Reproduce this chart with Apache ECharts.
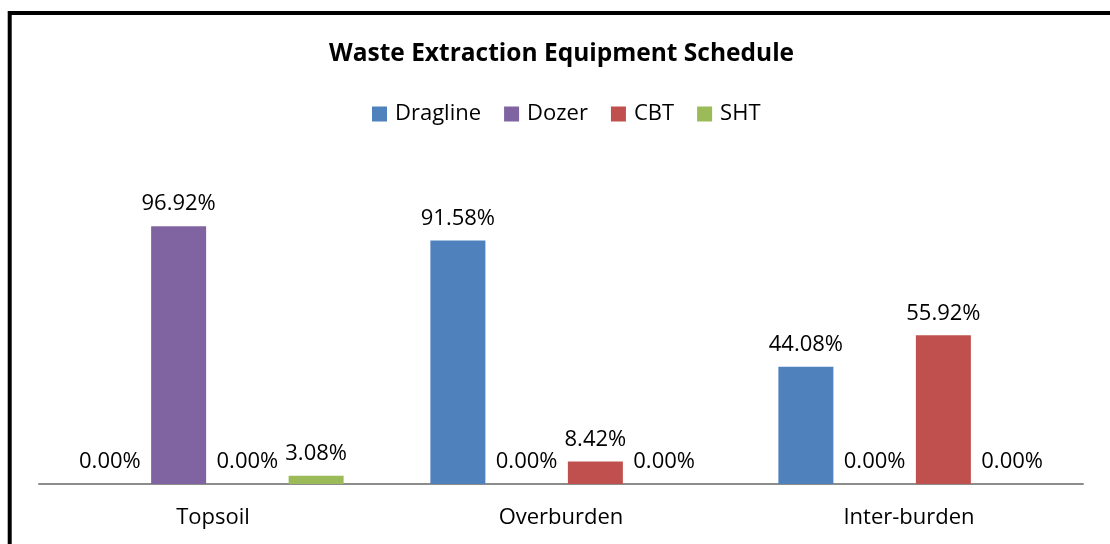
<!DOCTYPE html>
<html>
<head>
<meta charset="UTF-8">
<title>Waste Extraction Equipment Schedule</title>
<script src="https://cdn.jsdelivr.net/npm/echarts@6/dist/echarts.min.js"></script>
<style>
    html,body{margin:0;padding:0;background:#fff;}
    #chart{width:1110px;height:544px;}
</style>
</head>
<body>
<div id="chart"></div>
<script>
// categories and values (percent)
var categories = ['Topsoil', 'Overburden', 'Inter-burden'];
var dragline = [0, 91.58, 44.08];
var dozer = [96.92, 0, 0];
var cbt = [0, 8.42, 55.92];
var sht = [3.08, 0, 0];

var font = 'Open Sans';

function makeSeries(name, data, color){
    return {
        name: name,
        type: 'bar',
        data: data,
        barWidth: 55,
        barGap: '25%',
        itemStyle: { color: color },
        label: {
            show: true,
            position: 'top',
            distance: 11,
            color: '#000',
            fontFamily: font,
            fontSize: 22,
            formatter: function(p){ return p.value.toFixed(2) + '%'; }
        }
    };
}

var myChart = echarts.init(document.getElementById('chart'));
var option = {
    animation: false,
    title: {
        text: 'Waste Extraction Equipment Schedule',
        left: 324,
        top: 37,
        textStyle: { fontFamily: font, fontWeight: 'bold', fontSize: 24.5, color: '#000' }
    },
    legend: {
        top: 98,
        left: 367,
        icon: 'rect',
        itemWidth: 15,
        itemHeight: 15,
        itemGap: 23,
        textStyle: { fontFamily: font, fontSize: 22, color: '#000', padding: [0, 0, 0, 3] },
        data: ['Dragline', 'Dozer', 'CBT', 'SHT']
    },
    grid: { left: 39, right: 27, top: 218, bottom: 60 },
    xAxis: {
        type: 'category',
        data: categories,
        axisLine: { lineStyle: { color: '#8c8c8c', width: 2 } },
        axisTick: { show: false },
        axisLabel: { fontFamily: font, fontSize: 22, color: '#000', margin: 23 }
    },
    yAxis: {
        type: 'value',
        min: 0,
        max: 100,
        show: false,
        splitLine: { show: false }
    },
    graphic: [{
        type: 'rect',
        shape: { x: 9.7, y: 13, width: 1300, height: 700 },
        style: { fill: 'none', stroke: '#000', lineWidth: 4 },
        silent: true
    }],
    series: [
        makeSeries('Dragline', dragline, '#4F81BD'),
        makeSeries('Dozer', dozer, '#8064A2'),
        makeSeries('CBT', cbt, '#C0504D'),
        makeSeries('SHT', sht, '#9BBB59')
    ]
};
myChart.setOption(option);
</script>
</body>
</html>
